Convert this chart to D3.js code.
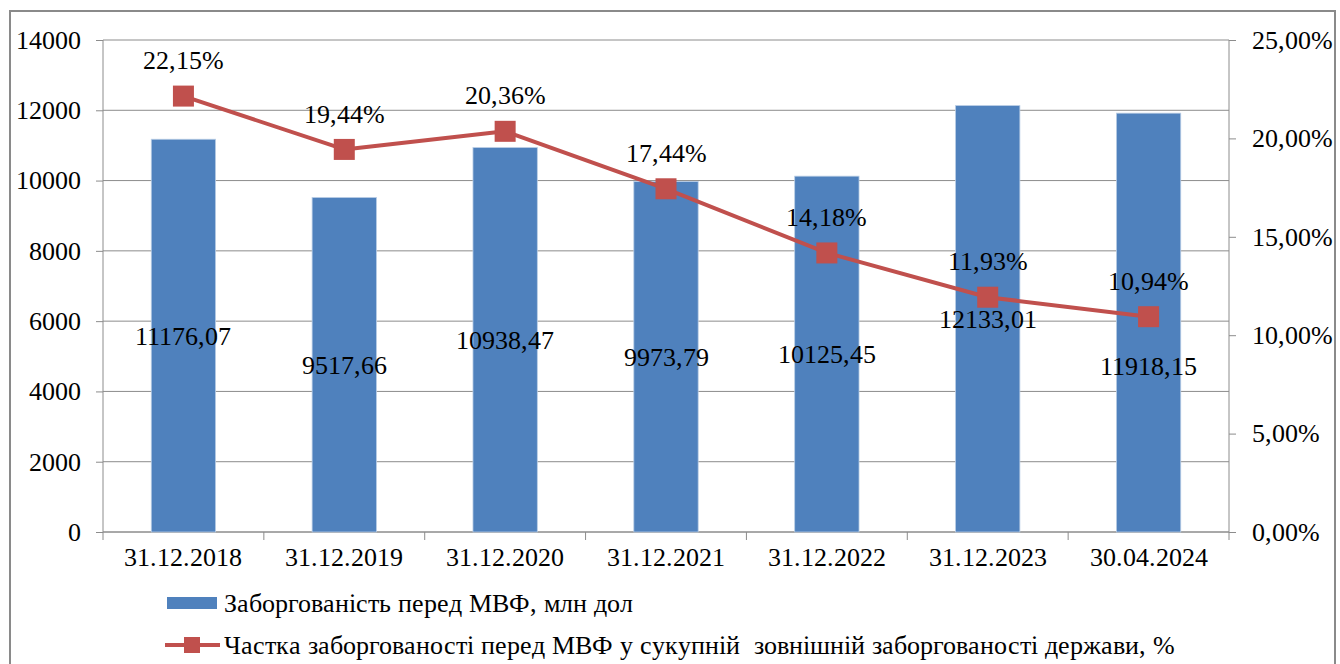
<!DOCTYPE html>
<html>
<head>
<meta charset="utf-8">
<script src="https://cdn.jsdelivr.net/npm/d3@7"></script>
<style>
  @font-face {
    font-family: "ChartSerif";
    src: local("Liberation Serif"), local("LiberationSerif"), local("LiberationSerif-Regular"),
         local("Times New Roman"), local("DejaVu Serif"), local("DejaVuSerif"), local("Noto Serif");
  }
  body { margin: 0; background: #fff; }
</style>
</head>
<body>
<div id="chart"></div>
<script>
const categories = ['31.12.2018', '31.12.2019', '31.12.2020', '31.12.2021', '31.12.2022', '31.12.2023', '30.04.2024'];
const debt = [11176.07, 9517.66, 10938.47, 9973.79, 10125.45, 12133.01, 11918.15];
const share = [22.15, 19.44, 20.36, 17.44, 14.18, 11.93, 10.94];
const leftTicks = [0, 2000, 4000, 6000, 8000, 10000, 12000, 14000];
const rightTicks = [0, 5, 10, 15, 20, 25];
const seriesNames = ['Заборгованість перед МВФ, млн дол', 'Частка заборгованості перед МВФ у сукупній  зовнішній заборгованості держави, %'];

const W = 1340, H = 664;
const margin = {top: 40, right: 111, bottom: 132, left: 103};
const width = W - margin.left - margin.right;
const height = H - margin.top - margin.bottom;
const blue = '#4f81bd', red = '#c0504d', grid = '#8c8c8c';
const serif = '"ChartSerif", "Liberation Serif", "Times New Roman", "DejaVu Serif", serif';
const fmt = (v, d) => v.toFixed(d).replace('.', ',');

const svg = d3.select('#chart').append('svg')
    .attr('width', W)
    .attr('height', H);

// outer frame
svg.append('rect')
    .attr('x', 10).attr('y', 11)
    .attr('width', 1325).attr('height', 670)
    .attr('fill', 'none')
    .attr('stroke', '#8a8a8a')
    .attr('stroke-width', 2);

const g = svg.append('g')
    .attr('transform', `translate(${margin.left},${margin.top})`);

const x = d3.scaleBand().domain(categories).range([0, width]).paddingInner(0.6).paddingOuter(0.3);
const xc = d3.scaleBand().domain(categories).range([0, width]);
const y = d3.scaleLinear().domain([0, 14000]).range([height, 0]);
const y2 = d3.scaleLinear().domain([0, 25]).range([height, 0]);

// gridlines
g.append('g').selectAll('line')
    .data(leftTicks)
    .enter().append('line')
    .attr('x1', 0).attr('x2', width)
    .attr('y1', d => y(d)).attr('y2', d => y(d))
    .attr('stroke', grid).attr('stroke-width', 1);

// left axis
const yAxis = g.append('g')
    .call(d3.axisLeft(y).tickValues(leftTicks).tickSize(7).tickPadding(15).tickFormat(d => d));
// right axis
const y2Axis = g.append('g')
    .attr('transform', `translate(${width},0)`)
    .call(d3.axisRight(y2).tickValues(rightTicks).tickSize(7).tickPadding(16).tickFormat(d => fmt(d, 2) + '%'));
// bottom axis with ticks between categories
const xAxis = g.append('g')
    .attr('transform', `translate(0,${height})`)
    .call(d3.axisBottom(xc).tickSize(0).tickPadding(16));
xAxis.selectAll('line.between')
    .data(d3.range(categories.length + 1))
    .enter().append('line')
    .attr('class', 'between')
    .attr('x1', i => i * xc.step()).attr('x2', i => i * xc.step())
    .attr('y1', 0).attr('y2', 8);

[yAxis, y2Axis, xAxis].forEach(a => {
    a.attr('font-family', null).attr('font-size', null);
    a.selectAll('path.domain').attr('stroke', grid);
    a.selectAll('line').attr('stroke', grid);
    a.selectAll('text').style('font-size', '26px').style('font-family', serif).attr('fill', '#000');
});
yAxis.select('path.domain').attr('d', `M0,0V${height}`);
y2Axis.select('path.domain').attr('d', `M0,0V${height}`);
xAxis.select('path.domain').attr('d', `M0,0H${width}`);

// bars
g.selectAll('.bar')
    .data(debt)
    .enter().append('rect')
    .attr('class', 'bar')
    .attr('x', (d, i) => x(categories[i]))
    .attr('width', x.bandwidth())
    .attr('y', d => y(d))
    .attr('height', d => height - y(d))
    .attr('fill', blue)
    .attr('stroke', '#b9cde5')
    .attr('stroke-width', 0.8);

// line
const line = d3.line()
    .x((d, i) => xc(categories[i]) + xc.bandwidth() / 2)
    .y(d => y2(d));

g.append('path')
    .datum(share)
    .attr('d', line)
    .attr('fill', 'none')
    .attr('stroke', red)
    .attr('stroke-width', 4)
    .attr('stroke-linejoin', 'round');

g.selectAll('.marker')
    .data(share)
    .enter().append('rect')
    .attr('class', 'marker')
    .attr('x', (d, i) => xc(categories[i]) + xc.bandwidth() / 2 - 10.5)
    .attr('y', d => y2(d) - 10.5)
    .attr('width', 21).attr('height', 21)
    .attr('fill', red);

// labels for bars, the last one was pushed down in the original
const barLabelShift = {6: 43};
g.selectAll('.barlabel')
    .data(debt)
    .enter().append('text')
    .attr('class', 'barlabel')
    .attr('x', (d, i) => xc(categories[i]) + xc.bandwidth() / 2)
    .attr('y', (d, i) => (y(d) + height) / 2 + (barLabelShift[i] || 0))
    .attr('dy', '0.35em')
    .attr('text-anchor', 'middle')
    .style('font-size', '26px')
    .style('font-family', serif)
    .text(d => fmt(d, 2));

g.selectAll('.linelabel')
    .data(share)
    .enter().append('text')
    .attr('class', 'linelabel')
    .attr('x', (d, i) => xc(categories[i]) + xc.bandwidth() / 2)
    .attr('y', d => y2(d) - 36)
    .attr('dy', '0.35em')
    .attr('text-anchor', 'middle')
    .style('font-size', '26px')
    .style('font-family', serif)
    .text(d => fmt(d, 2) + '%');

// legend
const legend = svg.append('g');
legend.append('rect')
    .attr('x', 167).attr('y', 597)
    .attr('width', 50).attr('height', 12)
    .attr('fill', blue);
legend.append('text')
    .attr('x', 224).attr('y', 603).attr('dy', '0.35em')
    .style('font-size', '26px')
    .style('font-family', serif)
    .text(seriesNames[0]);
legend.append('line')
    .attr('x1', 165).attr('x2', 220)
    .attr('y1', 645).attr('y2', 645)
    .attr('stroke', red).attr('stroke-width', 4);
legend.append('rect')
    .attr('x', 184).attr('y', 637)
    .attr('width', 16).attr('height', 16)
    .attr('fill', red);
legend.append('text')
    .attr('x', 224).attr('y', 645).attr('dy', '0.35em')
    .style('font-size', '26px')
    .style('font-family', serif)
    .style('white-space', 'pre')
    .text(seriesNames[1]);
</script>
</body>
</html>
